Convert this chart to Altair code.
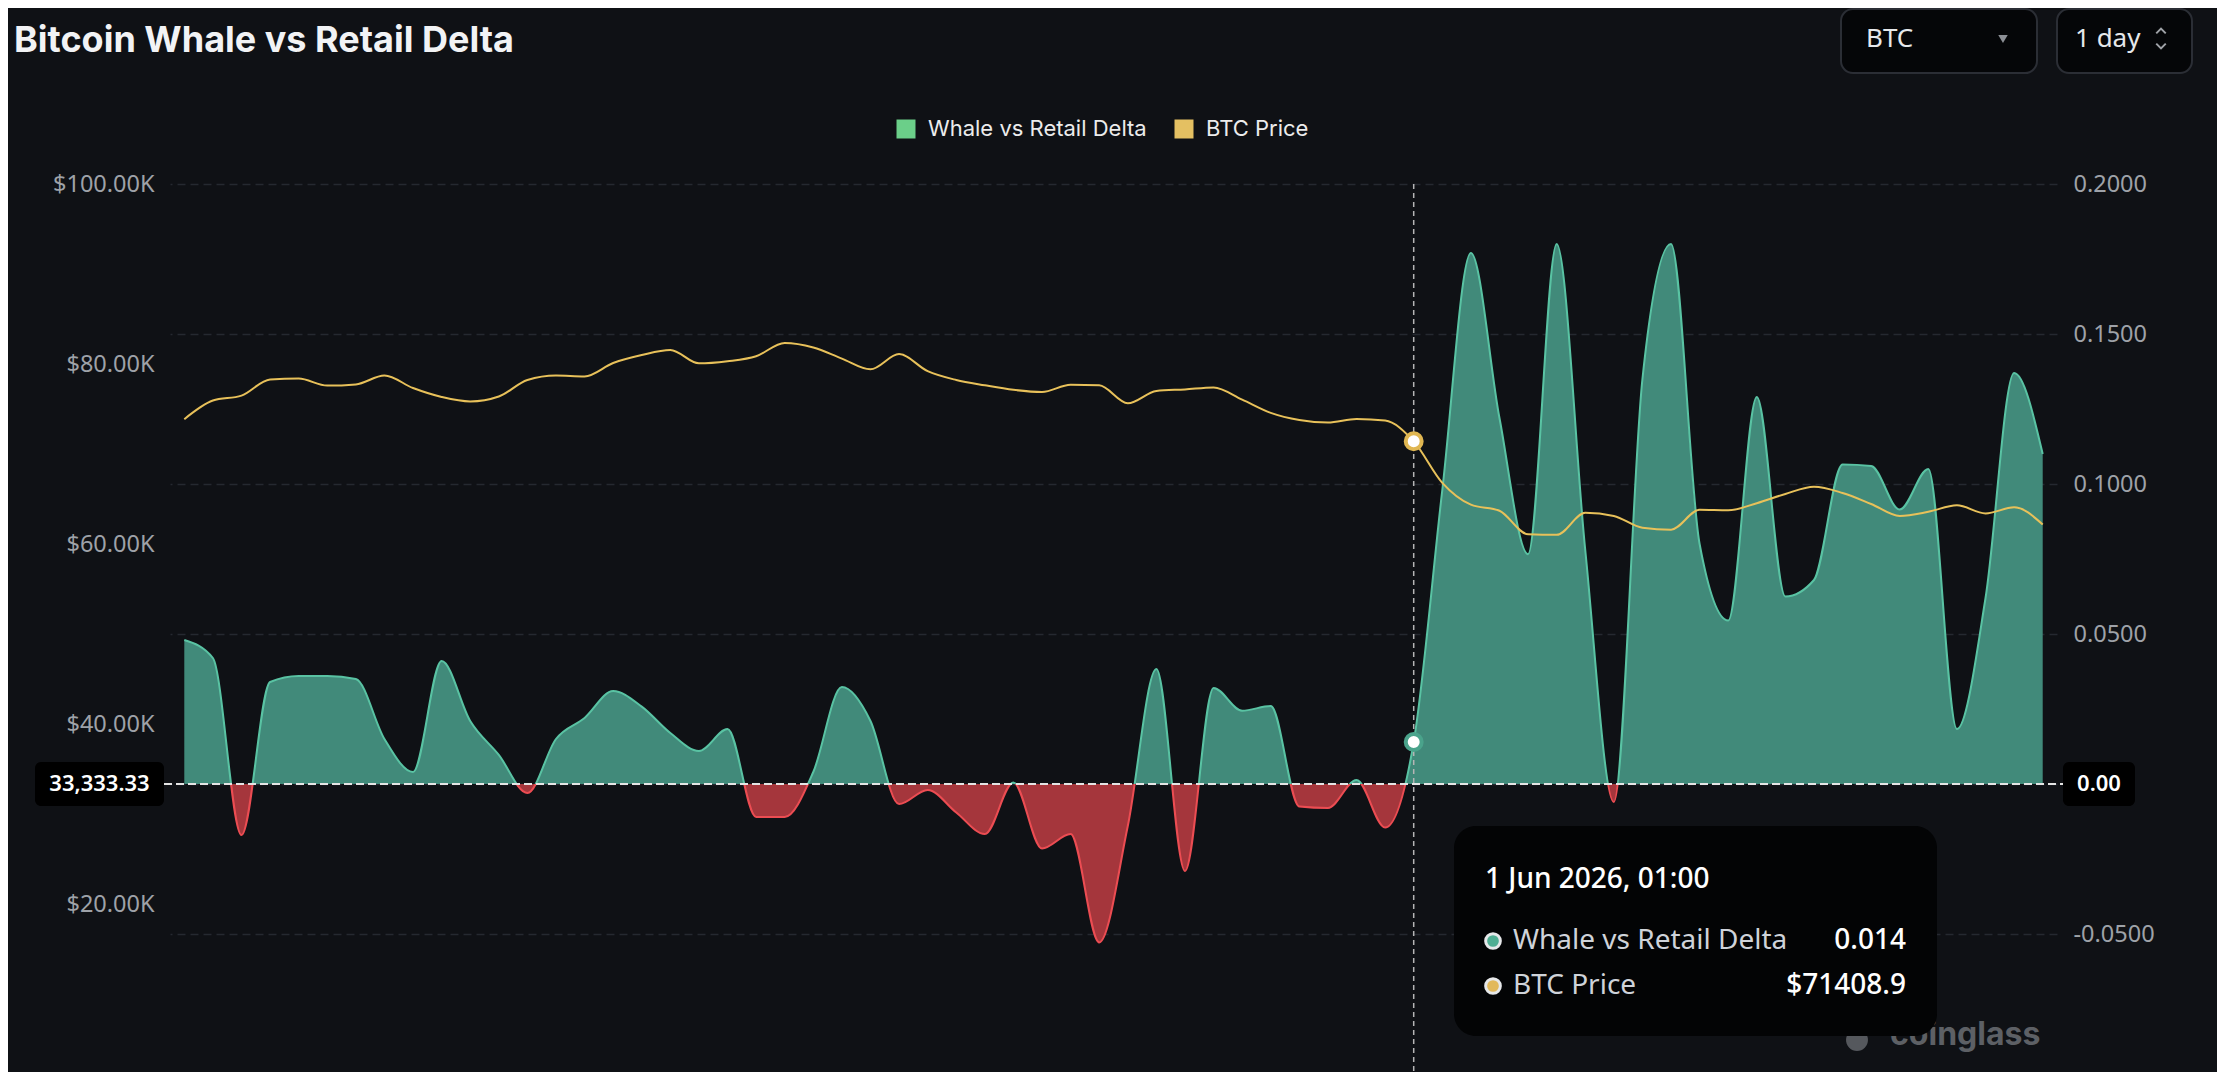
import altair as alt
import pandas as pd

# ---------------- data ----------------
dates = [d.strftime("%Y-%m-%dT%H:%M:%S")
         for d in pd.date_range("2026-04-19 01:00", periods=66, freq="D")]

delta = [0.048, 0.042, -0.017, 0.034, 0.036, 0.036, 0.035, 0.015, 0.004, 0.041,
         0.021, 0.0097, -0.003, 0.015, 0.022, 0.031, 0.0258, 0.017, 0.011, 0.0183,
         -0.011, -0.011, 0.004, 0.0323, 0.021, -0.0067, -0.002, -0.0095, -0.0167, 0.0005,
         -0.0215, -0.0167, -0.0528, -0.014, 0.0383, -0.029, 0.032, 0.0244, 0.026, -0.0075,
         -0.008, 0.0013, -0.0145, 0.014, 0.098, 0.177, 0.122, 0.0766, 0.180, 0.078,
         -0.006, 0.135, 0.180, 0.080, 0.0545, 0.129, 0.0625, 0.068, 0.1065, 0.106,
         0.0915, 0.105, 0.0183, 0.062, 0.137, 0.110]

price = [73870, 75940, 76490, 78280, 78380, 77600, 77730, 78720, 77330, 76340,
         75840, 76390, 78220, 78720, 78620, 80110, 81000, 81560, 80070, 80310,
         80860, 82340, 81840, 80600, 79410, 81100, 79200, 78220, 77630, 77130,
         76890, 77700, 77630, 75640, 77000, 77180, 77400, 76040, 74570, 73780,
         73490, 73890, 73720, 71408.9, 66800, 64370, 63690, 61080, 61020, 63460,
         63120, 61800, 61590, 63800, 63750, 64530, 65560, 66360, 65670, 64450,
         63120, 63580, 64300, 63400, 64080, 62160]

series_names = ["Whale vs Retail Delta", "BTC Price"]
series_colors = ["#6bcf89", "#e4c062"]
left_ticks = [20000, 40000, 60000, 80000, 100000]
right_ticks = [-0.05, 0.0, 0.05, 0.10, 0.15, 0.20]

cross_date = "2026-06-01T01:00:00"
tooltip_title = "1 Jun 2026, 01:00"
tooltip_rows = ["Whale vs Retail Delta", "BTC Price"]
tooltip_values = ["0.014", "$71408.9"]
zero_left_label = "33,333.33"
zero_right_label = "0.00"
title_text = "Bitcoin Whale vs Retail Delta"
selector_texts = ["BTC", "1 day"]
watermark = "coinglass"

# ---------------- styling ----------------
BG = "#0f1115"
GREEN_FILL, RED_FILL = "#418a7a", "#a5363c"
GREEN_LINE, RED_LINE = "#59c3a3", "#ec4c52"
PRICE_COLOR = "#e8c15a"
AXIS_LABEL = "#9ea2a8"

W, H = 1887, 880
delta_domain = [0.2 - H / 3000.0, 0.2]
price_domain = [100000 - H * 1000.0 / 9.0, 100000]
x_domain = [alt.DateTime(year=2026, month=4, date=18, hours=13),
            alt.DateTime(year=2026, month=6, date=23, hours=13)]

df = pd.DataFrame({"date": dates, "delta": delta, "price": price})
cross_df = df[df["date"] == cross_date].reset_index(drop=True)

dmax, dmin = max(delta), min(delta)
f = dmax / (dmax - dmin)


def split_gradient(pos, neg):
    return alt.LinearGradient(
        gradient="linear", x1=0, x2=0, y1=0, y2=1,
        stops=[alt.GradientStop(color=pos, offset=0),
               alt.GradientStop(color=pos, offset=f),
               alt.GradientStop(color=neg, offset=f),
               alt.GradientStop(color=neg, offset=1)])


X = alt.X("date:T", scale=alt.Scale(domain=x_domain), axis=None)

delta_y = alt.Y(
    "delta:Q", title=None,
    scale=alt.Scale(domain=delta_domain, nice=False, zero=False),
    axis=alt.Axis(orient="right", values=right_ticks,
                  labelExpr="datum.value == 0 ? '' : replace(format(datum.value, '.4f'), '\u2212', '-')",
                  grid=True, gridColor="#252930", gridDash=[8, 5], gridWidth=1.5,
                  ticks=False, domain=False, labelPadding=16,
                  labelFont="Noto Sans", labelFontSize=23.5, labelColor=AXIS_LABEL))

price_y = alt.Y(
    "price:Q", title=None,
    scale=alt.Scale(domain=price_domain, nice=False, zero=False),
    axis=alt.Axis(orient="left", values=left_ticks,
                  labelExpr="'$' + format(datum.value / 1000, '.2f') + 'K'",
                  grid=False, ticks=False, domain=False, labelPadding=16,
                  labelFont="Noto Sans", labelFontSize=23.5, labelColor=AXIS_LABEL))

base = alt.Chart(df).encode(x=X)

area = base.mark_area(interpolate="monotone", fill=split_gradient(GREEN_FILL, RED_FILL)).encode(
    y=delta_y, y2=alt.datum(0))
dline = base.mark_line(interpolate="monotone", stroke=split_gradient(GREEN_LINE, RED_LINE),
                       strokeWidth=2).encode(y=delta_y)

one = pd.DataFrame({"k": [0]})
zero_rule = alt.Chart(one).mark_rule(color="#e4e4e4", strokeDash=[8, 4], strokeWidth=2).encode(
    y=alt.datum(0), x=alt.value(-6), x2=alt.value(W + 6))
cross_rule = alt.Chart(cross_df).mark_rule(color="#b5b5b5", strokeDash=[5, 4], strokeWidth=1.5).encode(
    x=X, y=alt.value(0), y2=alt.value(H + 8))
dpoint = alt.Chart(cross_df).mark_point(shape="circle", filled=True, fill="#ffffff", stroke="#4aa38b",
                                        strokeWidth=4, size=254, opacity=1).encode(x=X, y=delta_y)

delta_layer = alt.layer(area, dline, zero_rule, cross_rule, dpoint)

pline = base.mark_line(interpolate="monotone", color=PRICE_COLOR, strokeWidth=2).encode(y=price_y)
legend_layer = base.mark_square(opacity=0).transform_calculate(series="'BTC Price'").encode(
    y=price_y,
    color=alt.Color("series:N", scale=alt.Scale(domain=series_names, range=series_colors),
                    legend=alt.Legend(orient="none", legendX=725, legendY=-66, direction="horizontal",
                                      title=None, symbolType="square", symbolSize=361,
                                      symbolStrokeWidth=0, symbolOpacity=1, labelLimit=0,
                                      labelFont="Inter", labelFontSize=22, labelColor="#ececec",
                                      labelOffset=11, columnPadding=26, padding=0)))
ppoint = alt.Chart(cross_df).mark_point(shape="circle", filled=True, fill="#ffffff", stroke="#e0b752",
                                        strokeWidth=4, size=254, opacity=1).encode(x=X, y=price_y)
price_layer = alt.layer(pline, legend_layer, ppoint)


# ---------------- decorations ----------------
def txt(s, x, y, size, color, font="Noto Sans", weight=400, align="left", baseline="middle"):
    return alt.Chart(one).mark_text(text=s, font=font, fontSize=size, fontWeight=weight, color=color,
                                    align=align, baseline=baseline).encode(x=alt.value(x), y=alt.value(y))


def box(x, x2, y, y2, fill, radius=0, stroke=None, sw=0):
    kw = dict(fill=fill, cornerRadius=radius)
    if stroke:
        kw.update(stroke=stroke, strokeWidth=sw)
    return alt.Chart(one).mark_rect(**kw).encode(
        x=alt.value(x), x2=alt.value(x2), y=alt.value(y), y2=alt.value(y2))


def sym(shape, x, y, size, fill=None, stroke=None, sw=0):
    kw = dict(shape=shape, size=size, opacity=1)
    if fill:
        kw.update(filled=True, fill=fill)
    else:
        kw.update(filled=False, fill="transparent")
    if stroke:
        kw.update(stroke=stroke, strokeWidth=sw)
    return alt.Chart(one).mark_point(**kw).encode(x=alt.value(x), y=alt.value(y))


decor = [
    txt(title_text, -156, -132, 36, "#f2f3f5", font="Inter", weight=700, baseline="alphabetic"),
    box(1671, 1867, -175, -111, "#050608", 12, "#2b2e35", 2),
    box(1887, 2022, -175, -111, "#050608", 12, "#2b2e35", 2),
    txt(selector_texts[0], 1696, -145, 26, "#e6e8eb"),
    sym("triangle-down", 1833, -145, 90, fill="#8c8f95"),
    txt(selector_texts[1], 1905, -145, 26, "#e6e8eb"),
    sym("M-1,0.5L0,-0.5L1,0.5", 1991, -153, 90, stroke="#a0a3a8", sw=2),
    sym("M-1,-0.5L0,0.5L1,-0.5", 1991, -138, 90, stroke="#a0a3a8", sw=2),
    # zero-line labels
    box(-135, -6, 578, 622, "#000000", 6),
    txt(zero_left_label, -70.5, 600, 22, "#ffffff", weight=600, align="center"),
    box(1893, 1965, 578, 622, "#000000", 6),
    txt(zero_right_label, 1929, 600, 22, "#ffffff", weight=600, align="center"),
    # watermark
    sym("circle", 1687, 856, 480, fill="#55585d"),
    txt(watermark, 1720, 861, 32, "#5d6065", font="Inter", weight=700, baseline="alphabetic"),
    # tooltip
    box(1284, 1767, 642, 852, "#030405", 22),
    txt(tooltip_title, 1315, 704, 28, "#ffffff", weight=500, baseline="alphabetic"),
    sym("circle", 1323, 757, 216, fill="#4fae93", stroke="#e6e8ea", sw=3),
    sym("circle", 1323, 802, 216, fill="#e2b95b", stroke="#e6e8ea", sw=3),
    txt(tooltip_rows[0], 1343, 757, 28, "#cfd3d9"),
    txt(tooltip_rows[1], 1343, 802, 28, "#cfd3d9"),
    txt(tooltip_values[0], 1736, 757, 28, "#ffffff", weight=500, align="right"),
    txt(tooltip_values[1], 1736, 802, 28, "#ffffff", weight=500, align="right"),
]

chart = alt.layer(delta_layer, price_layer, *decor).resolve_scale(
    y="independent"
).properties(
    width=W, height=H,
    padding={"left": 162, "top": 176, "right": 160, "bottom": 8},
    autosize=alt.AutoSizeParams(type="none"),
).configure(background=BG).configure_view(stroke=None)

chart.save("out.html", embed_options={"renderer": "svg", "actions": False})
